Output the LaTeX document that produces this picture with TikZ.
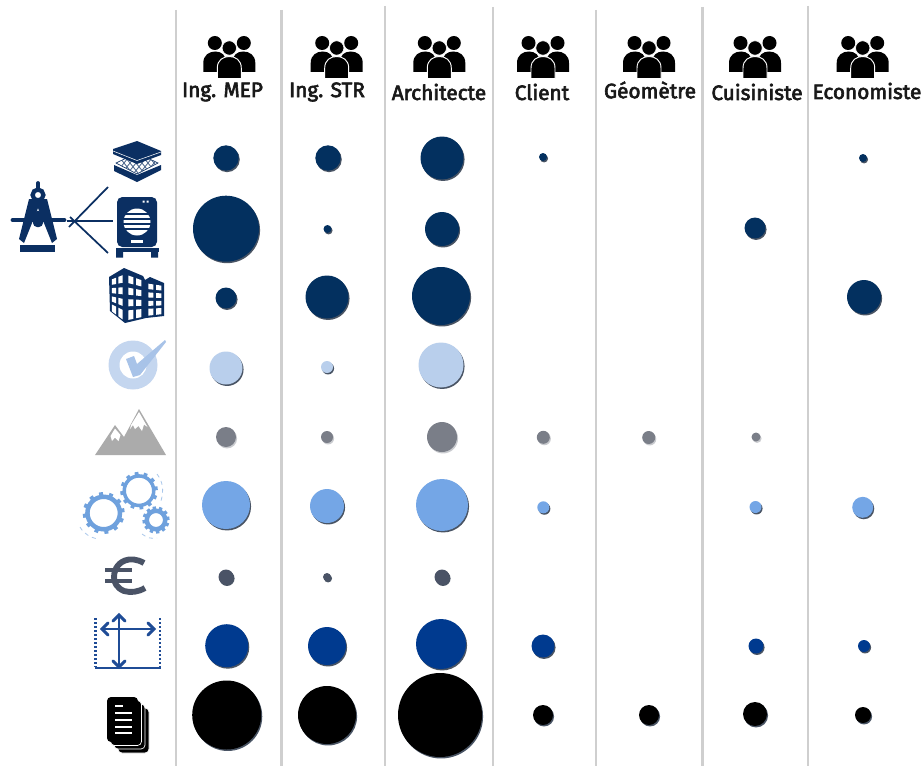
\documentclass[tikz,border=0pt]{standalone}
\usepackage{fontspec}
\setmainfont[FakeBold=3]{Fira Sans}
\usetikzlibrary{shadows}
\definecolor{navy}{HTML}{03305F}
\definecolor{iconnavy}{HTML}{0B2F62}
\definecolor{lightb}{HTML}{B9CFEC}
\definecolor{checkb}{HTML}{C4D6EF}
\definecolor{checkc}{HTML}{A8C3E8}
\definecolor{greyb}{HTML}{7A7E88}
\definecolor{mount}{HTML}{ABABAB}
\definecolor{midb}{HTML}{74A6E6}
\definecolor{gear}{HTML}{6FA1DD}
\definecolor{slate}{HTML}{4A5366}
\definecolor{royal}{HTML}{003A8F}
\definecolor{dimb}{HTML}{1F4C96}
\definecolor{sep}{HTML}{CFCFCF}
\definecolor{shade}{HTML}{1C2A3E}
\tikzset{
  bubble/.style={circle,inner sep=0pt,outer sep=0pt,draw=none,
    drop shadow={shadow xshift=0.8pt,shadow yshift=-1.1pt,fill=shade,opacity=0.8}},
  softbubble/.style={circle,inner sep=0pt,outer sep=0pt,draw=none,
    drop shadow={shadow xshift=0.8pt,shadow yshift=-1.1pt,fill=greyb,opacity=0.4}},
  sepline/.style={draw=sep,line width=1.7pt},
  headlabel/.style={font=\fontsize{15.6pt}{17pt}\selectfont,text=black!90,inner sep=0pt,anchor=center},
  fanline/.style={draw=iconnavy,line width=1.3pt},
  pics/crowdicon/.style={code={
    \fill[black] (-14.5,43) circle[radius=7] (14.5,43) circle[radius=7];
    \foreach \s in {-1,1}{
      \fill[black,xscale=\s] (3,72)--(3,63) .. controls (3,55) and (8,51.5) .. (14,51.5) .. controls (20,51.5) and (26,55) .. (26,63) -- (26,72) -- cycle;}
    \filldraw[fill=black,draw=white,line width=0.7pt] (-12,78.5)--(-12,68) .. controls (-12,60) and (-6,56.5) .. (0,56.5) .. controls (6,56.5) and (12,60) .. (12,68) -- (12,78.5) -- cycle;
    \filldraw[fill=black,draw=white,line width=0.5pt] (0,48) circle[radius=7.2];
  }},
  pics/gearicon/.style args={#1/#2/#3}{code={
    \draw[gear,line width=#3*0.75pt] (0,0) circle[radius=#1-#3/2];
    \foreach \a in {0,30,...,330}{
      \fill[gear,rotate=\a+8] (#1-#3/2,-#2) rectangle (#1+#2*1.2,#2);}
  }},
}
\newcommand{\bub}[5]{\node[bubble,fill=#5,minimum size=#4*1.5pt] (#1) at (#2,#3) {};}
\newcommand{\bubs}[5]{\node[softbubble,fill=#5,minimum size=#4*1.5pt] (#1) at (#2,#3) {};}
\newcommand{\facewin}[6]{%
  \foreach \ua/\ub in {0.14/0.44,0.60/0.90}{\foreach \va/\vb in {.09/.24,.33/.47,.56/.70,.78/.97}{%
    \pgfmathsetmacro\xa{#1+(#2-#1)*\ua}\pgfmathsetmacro\xb{#1+(#2-#1)*\ub}%
    \pgfmathsetmacro\yaa{(#3+(#4-#3)*\ua)*(1-\va)+(#5+(#6-#5)*\ua)*\va}%
    \pgfmathsetmacro\yab{(#3+(#4-#3)*\ua)*(1-\vb)+(#5+(#6-#5)*\ua)*\vb}%
    \pgfmathsetmacro\yba{(#3+(#4-#3)*\ub)*(1-\va)+(#5+(#6-#5)*\ub)*\va}%
    \pgfmathsetmacro\ybb{(#3+(#4-#3)*\ub)*(1-\vb)+(#5+(#6-#5)*\ub)*\vb}%
    \fill[white] (\xa,\yaa)--(\xb,\yba)--(\xb,\ybb)--(\xa,\yab)--cycle;}}}
\begin{document}
\begin{tikzpicture}[x=0.75pt,y=-0.75pt]
\useasboundingbox (0,0) rectangle (924,767);
\fill[white] (0,0) rectangle (924,767);
% separators
\foreach \n/\x/\t in {a/176/10,b/281.5/10,c/385/6,d/493/7,e/596/10,f/702.5/7,g/808/6}{
  \coordinate (s\n t) at (\x,\t);
  \coordinate (s\n b) at (\x,766);
  \draw[sepline] (s\n t) -- (s\n b);
}
% header icons and labels
\foreach \x in {229.3,336.7,439.3,543,649,755,862.7}{ \pic at (\x,0) {crowdicon}; }
\node[headlabel] (hMEP) at (222.5,92) {Ing. MEP};
\node[headlabel] (hSTR) at (327,92) {Ing. STR};
\node[headlabel] (hARC) at (439,92) {Architecte};
\node[headlabel] (hCLI) at (542,92) {Client};
\node[headlabel] (hGEO) at (650,90) {Géomètre};
\node[headlabel] (hCUI) at (757,92) {Cuisiniste};
\node[headlabel] (hECO) at (867,91) {Economiste};
% bubbles
\bub{a1}{226}{158}{12.7}{navy}
\bub{a2}{328}{158}{12.7}{navy}
\bub{a3}{442}{158}{21.5}{navy}
\bub{a4}{543}{157}{4}{navy}
\bub{a7}{863}{158}{4}{navy}
\bub{b1}{226}{228.7}{33}{navy}
\bub{b2}{327.5}{229}{4}{navy}
\bub{b3}{442}{229}{17}{navy}
\bub{b6}{755}{228}{10.5}{navy}
\bub{c1}{226}{298}{10.5}{navy}
\bub{c2}{327}{297}{21.5}{navy}
\bub{c3}{441}{296}{29}{navy}
\bub{c7}{864}{297}{17}{navy}
\bub{d1}{226}{368}{16.5}{lightb}
\bub{d2}{327}{367}{6}{lightb}
\bub{d3}{441}{365}{22.5}{lightb}
\bubs{e1}{226}{437}{10}{greyb}
\bubs{e2}{327}{437}{6}{greyb}
\bubs{e3}{442}{437}{15}{greyb}
\bubs{e4}{543.3}{437.3}{6.5}{greyb}
\bubs{e5}{648.7}{437.5}{6.5}{greyb}
\bubs{e6}{756}{437}{4.5}{greyb}
\bub{f1}{226}{505}{24}{midb}
\bub{f2}{327}{506}{17}{midb}
\bub{f3}{442}{505}{26}{midb}
\bub{f4}{543.3}{507.3}{6}{midb}
\bub{f6}{755.5}{507}{6}{midb}
\bub{f7}{862.7}{507.3}{10.5}{midb}
\bub{g1}{226}{577}{7.5}{slate}
\bub{g2}{327}{577}{4}{slate}
\bub{g3}{442}{577}{7.5}{slate}
\bub{h1}{226.7}{645.7}{21.5}{royal}
\bub{h2}{327}{646}{19}{royal}
\bub{h3}{441}{644}{25}{royal}
\bub{h4}{543}{646}{11.5}{royal}
\bub{h6}{756}{646}{7.5}{royal}
\bub{h7}{864}{646}{6}{royal}
\bub{i1}{226.7}{715}{34.5}{black}
\bub{i2}{327}{715}{29}{black}
\bub{i3}{440}{715}{42}{black}
\bub{i4}{543}{715}{10}{black}
\bub{i5}{649}{715}{10}{black}
\bub{i6}{755}{714}{12}{black}
\bub{i7}{863}{715}{8}{black}
% layers icon
\fill[iconnavy] (114,165)--(137,175)--(161,165)--(161,170)--(137,182)--(114,171)--cycle;
\filldraw[fill=white,draw=iconnavy,line width=0.5pt] (116,163)--(137,153)--(158,163)--(137,174)--cycle;
\begin{scope}
\clip (116,163)--(137,153)--(158,163)--(137,174)--cycle;
\foreach \k in {0,6,...,42}{
  \draw[iconnavy!75,line width=0.6pt] (112+\k,148)--(112+\k+24,178);
  \draw[iconnavy!75,line width=0.6pt] (112+\k,178)--(112+\k+24,148);}
\end{scope}
\fill[iconnavy] (113,149)--(137,141)--(161,151)--(161,155)--(137,164)--(113,154)--cycle;
\draw[white,line width=0.4pt] (113,151)--(137,160.5)--(161,152);
% compass
\coordinate (fanhub) at (74,221);
\coordinate (fanA) at (108,187);
\coordinate (fanB) at (113,221);
\coordinate (fanC) at (108,253);
\draw[iconnavy,line width=2.8pt,line cap=round] (38,183)--(38,190);
\fill[iconnavy] (29,199)--(47,199)--(57,239)--(52,243)--(38,208)--(24,243)--(19,239)--cycle;
\filldraw[fill=white,draw=iconnavy,line width=3.2pt] (38,195) circle[radius=5.4];
\fill[iconnavy,rounded corners=3pt] (33,227)--(33,214)--(38,209)--(43,214)--(43,227)--cycle;
\draw[iconnavy,line width=3.6pt,line cap=round] (13,220)--(64,220);
\fill[iconnavy] (20,245) rectangle (55,252);
\draw[fanline] (70,217)--(fanC);
\draw[fanline] (69,227)--(fanA);
\draw[fanline] (67,221)--(fanB);
% appliance icon
\fill[iconnavy,rounded corners=4pt] (117,247)--(117,197)--(157,197)--(157,247)--cycle;
\fill[iconnavy] (115.5,248) rectangle (158.5,251.5);
\fill[iconnavy] (116,251) rectangle (123,257.5) (151,251) rectangle (158,257.5);
\fill[white] (137,222) circle[radius=13.5];
\foreach \yy in {213,218,223,228}{\fill[iconnavy] (122,\yy) rectangle (152,\yy+1.5);}
\fill[white] (131,240) rectangle (143,243);
\fill[white] (142.5,200.5) rectangle (144.5,202.5) (146.5,200.5) rectangle (148.5,202.5);
% building icon
\fill[iconnavy] (109,277)--(124,268)--(143,276)--(145,280)--(150,277)--(164,283)--(164,316)--(146,318)--(125,323)--(110,311)--cycle;
\facewin{110}{124}{277}{270}{311}{322}
\facewin{126}{143}{270}{277}{322}{318}
\facewin{146}{163}{280}{283}{317}{315}
% check icon
\fill[checkb] (133,365) circle[radius=24.5];
\fill[white] (133,365) circle[radius=13.5];
\fill[checkc] (126,359)--(134,356)--(137,364)--(165,340)--(166,342)--(140,375)--(133,377)--cycle;
% mountains
\fill[mount] (95,455)--(115,425)--(124,437)--(139,409)--(166,455)--cycle;
\fill[white] (110.5,436)--(115,428.5)--(120.5,435)--(118.5,441)--(115,437.5)--(112,441)--cycle;
\fill[white] (131,425)--(139,412)--(147.5,427)--(144,424.5)--(142,431)--(138.5,426)--(135,429)--(133,425)--(130,429)--cycle;
% gears
\pic at (103.7,513) {gearicon=18.5/2/4.5};
\pic at (139,490.7) {gearicon=16.5/1.9/3.5};
\pic at (156,520) {gearicon=11.5/1.7/4.5};
\draw[gear!60,line width=0.6pt,dashed] (157,474) .. controls (163,482) and (164,490) .. (161,501);
\draw[gear!60,line width=0.6pt,dashed] (80,527) .. controls (84,534) and (90,537) .. (97,539);
\draw[gear!60,line width=0.6pt,dashed] (142,534) .. controls (147,538) and (152,539) .. (157,538);
% euro
\draw[slate,line width=4.4pt] (144,563) .. controls (137,559) and (130,558.5) .. (125,560.5) .. controls (116,564) and (114,572) .. (114,577) .. controls (114,583) and (117,588) .. (124,591) .. controls (131,593) and (138,592) .. (145,588);
\draw[slate,line width=3.4pt] (105,570)--(132,570) (105,581)--(132,581);
% dimensions
\draw[dimb,line width=2pt] (95,668)--(161,668);
\draw[dimb,line width=2pt,dash pattern=on 1.6pt off 1.4pt] (95.5,618)--(95.5,667);
\draw[dimb,line width=2pt,dash pattern=on 1.6pt off 1.4pt] (160,618)--(160,667);
\draw[dimb,line width=2pt] (104,629)--(153,629);
\draw[dimb,line width=2pt] (119,617)--(119,667);
\draw[dimb,line width=2.2pt,line cap=round] (108,623)--(102,629)--(108,635);
\draw[dimb,line width=2.2pt,line cap=round] (148,623)--(154,629)--(148,635);
\draw[dimb,line width=2.2pt,line cap=round] (113,621)--(119,615)--(125,621);
\draw[dimb,line width=2.2pt,line cap=round] (113,661)--(119,667)--(125,661);
% documents
\foreach \o in {11,7,3.5}{
  \filldraw[fill=black,draw=white,line width=0.5pt,rounded corners=3pt] (107+\o,697+\o) rectangle (138+\o,742+\o);}
\fill[black,rounded corners=3pt] (107,697) rectangle (138,742);
\fill[white] (115,705) rectangle (123,707);
\foreach \yy in {712,719,725.5,732}{\fill[white] (115,\yy) rectangle (132,\yy+2.2);}
\end{tikzpicture}
\end{document}
